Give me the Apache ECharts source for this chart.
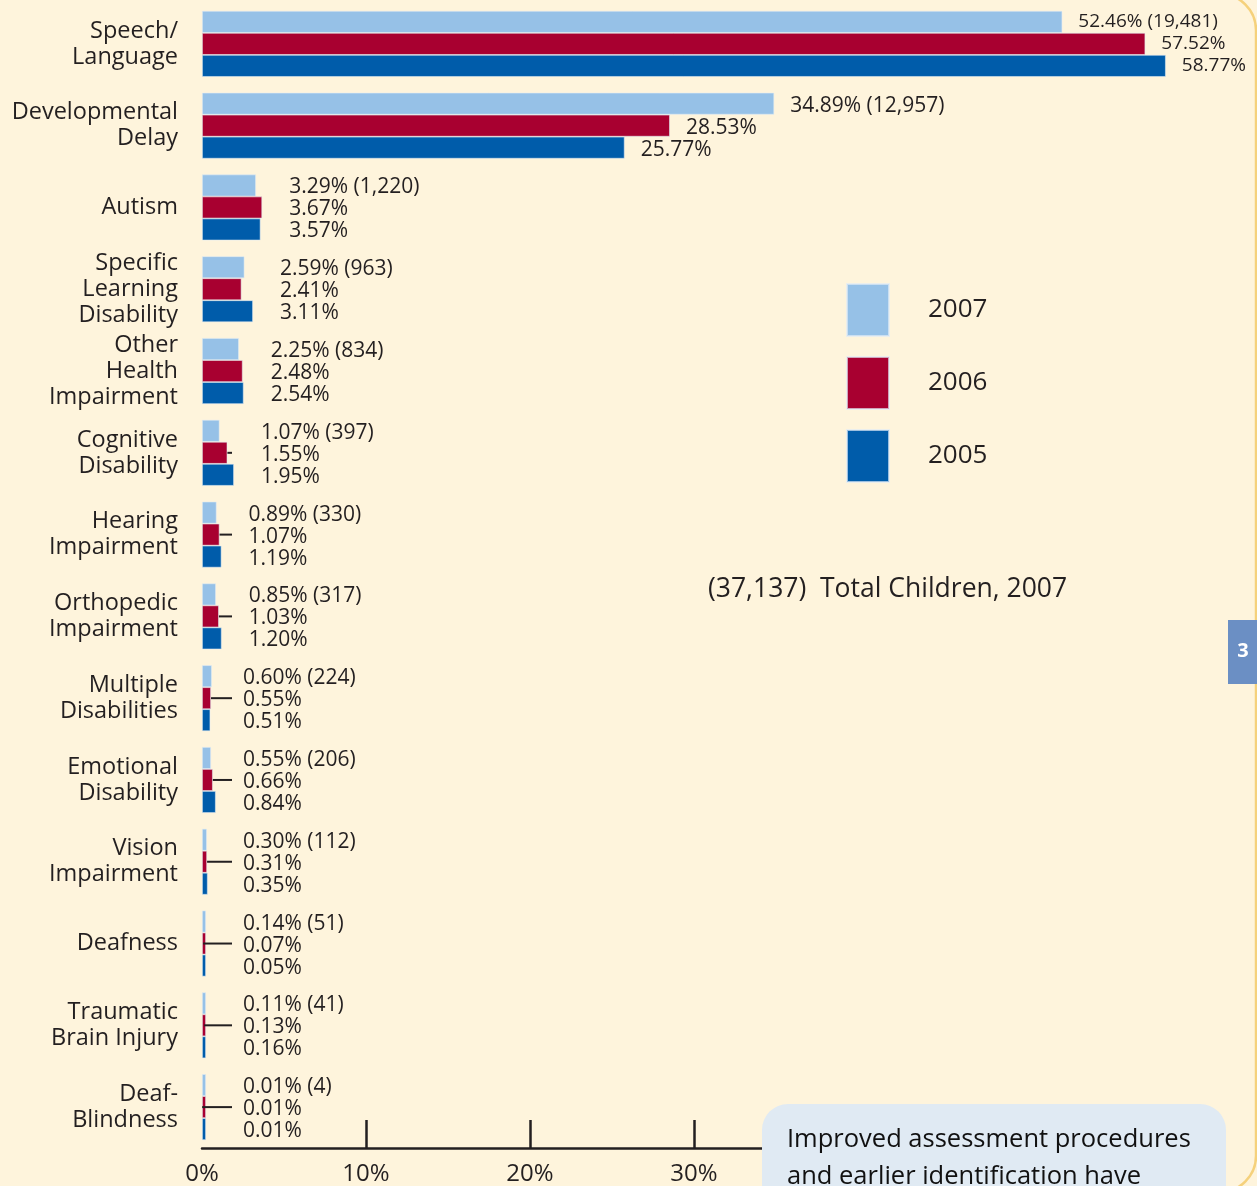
<!DOCTYPE html>
<html>
<head>
<meta charset="utf-8">
<script src="https://cdn.jsdelivr.net/npm/echarts@6/dist/echarts.min.js"></script>
<style>
  html, body { margin: 0; padding: 0; background: #fef4dc; }
  #chart { width: 1257px; height: 1186px; }
</style>
</head>
<body>
<div id="chart"></div>
<script>
// categories, top to bottom
const categories = [
  'Speech/\nLanguage', 'Developmental\nDelay', 'Autism',
  'Specific\nLearning\nDisability', 'Other\nHealth\nImpairment',
  'Cognitive\nDisability', 'Hearing\nImpairment', 'Orthopedic\nImpairment',
  'Multiple\nDisabilities', 'Emotional\nDisability', 'Vision\nImpairment',
  'Deafness', 'Traumatic\nBrain Injury', 'Deaf-\nBlindness'
]
const years = ['2007', '2006', '2005']
const data2007 = [52.46, 34.89, 3.29, 2.59, 2.25, 1.07, 0.89, 0.85, 0.60, 0.55, 0.30, 0.14, 0.11, 0.01]
const data2006 = [57.52, 28.53, 3.67, 2.41, 2.48, 1.55, 1.07, 1.03, 0.55, 0.66, 0.31, 0.07, 0.13, 0.01]
const data2005 = [58.77, 25.77, 3.57, 3.11, 2.54, 1.95, 1.19, 1.20, 0.51, 0.84, 0.35, 0.05, 0.16, 0.01]
const counts2007 = ['19,481', '12,957', '1,220', '963', '834', '397', '330', '317', '224', '206', '112', '51', '41', '4']
const xTicks = [0, 10, 20, 30, 40, 50, 60]

const colors = ['#96c1e7', '#a80030', '#005caa']
const textColor = '#231f20'
const font = 'Open Sans'

// scale: grid left 202, width 984 for 0..60
const gridLeft = 202
const gridRight = 71
const axisMax = 60
const pxPer = (1257 - gridLeft - gridRight) / axisMax
const minBar = 4

const allData = [data2007, data2006, data2005]

// labels of a category sit in one column to the right of its longest bar
function makeItems (vals, s) {
  return vals.map((v, i) => {
    const maxV = Math.max(data2007[i], data2006[i], data2005[i])
    const end = Math.max(v * pxPer, minBar)
    let dist = 16
    let size = 21
    let dy = 2
    if (maxV < 10) {
      const col = Math.max(maxV * pxPer + 27, 41)
      dist = col - end
    }
    if (i === 0) { size = 19; dy = 0 }
    return {
      value: v,
      label: { distance: dist, fontSize: size, offset: [0, dy] }
    }
  })
}

const barSeries = allData.map((vals, s) => ({
  name: years[s],
  type: 'bar',
  barWidth: 22,
  barGap: '0%',
  barMinHeight: minBar,
  itemStyle: { color: colors[s], borderColor: 'rgba(225,235,245,0.7)', borderWidth: 0.8 },
  label: {
    show: true,
    position: 'right',
    color: textColor,
    fontFamily: font,
    formatter: p => {
      const t = p.value.toFixed(2) + '%'
      return s === 0 ? t + ' (' + counts2007[p.dataIndex] + ')' : t
    }
  },
  data: makeItems(vals, s)
}))

// leader lines from the short 2006 bars to the label column
const leaderData = data2006.map((v, i) => [v, i]).filter(d => d[0] < 1.7)
const leaderSeries = {
  type: 'custom',
  silent: true,
  z: 5,
  data: leaderData,
  renderItem: (params, api) => {
    const a = api.coord([api.value(0), api.value(1)])
    const b = api.coord([0, api.value(1)])
    return {
      type: 'line',
      shape: { x1: a[0], y1: a[1], x2: b[0] + 30, y2: a[1] },
      style: { stroke: textColor, lineWidth: 2 }
    }
  }
}

const myChart = echarts.init(document.getElementById('chart'))
const option = {
  backgroundColor: '#fef4dc',
  animation: false,
  textStyle: { fontFamily: font },
  grid: { left: gridLeft, right: gridRight, top: 3, bottom: 36 },
  legend: {
    data: years,
    orient: 'vertical',
    left: 841,
    top: 278,
    icon: 'rect',
    itemWidth: 42,
    itemHeight: 52,
    itemGap: 19,
    textStyle: { fontSize: 26, color: textColor, fontFamily: font, padding: [0, 0, 0, 34] },
    selectedMode: false
  },
  xAxis: {
    type: 'value',
    min: 0,
    max: axisMax,
    interval: 10,
    splitLine: { show: false },
    axisLine: { show: true, lineStyle: { color: textColor, width: 2.5 } },
    axisTick: {
      show: true,
      inside: true,
      length: 28,
      customValues: xTicks.slice(1),
      lineStyle: { color: textColor, width: 2.5 }
    },
    axisLabel: {
      formatter: '{value}%',
      fontSize: 24,
      color: textColor,
      fontFamily: font,
      margin: 14,
      customValues: xTicks
    }
  },
  yAxis: {
    type: 'category',
    inverse: true,
    data: categories,
    axisLine: { show: false },
    axisTick: { show: false },
    axisLabel: {
      fontSize: 23.5,
      lineHeight: 26,
      color: textColor,
      fontFamily: font,
      margin: 24,
      align: 'right'
    }
  },
  series: [...barSeries, leaderSeries],
  graphic: [
    {
      type: 'text',
      left: 708,
      top: 576,
      style: { text: '(37,137)  Total Children, 2007', fontSize: 26.5, fill: textColor, fontFamily: font }
    },
    {
      type: 'rect',
      z: 100,
      shape: { x: -60, y: -6, width: 1316, height: 1198, r: 36 },
      style: { fill: 'none', stroke: '#f5d17c', lineWidth: 2.5 }
    },
    {
      type: 'rect',
      z: 101,
      shape: { x: 762, y: 1104, width: 464, height: 120, r: 26 },
      style: { fill: '#e0eaf3' }
    },
    {
      type: 'text',
      z: 102,
      left: 787,
      top: 1121,
      style: {
        text: 'Improved assessment procedures\nand earlier identification have',
        fontSize: 25.5,
        lineHeight: 37,
        fill: '#111',
        fontFamily: font
      }
    },
    {
      type: 'rect',
      z: 101,
      shape: { x: 1228, y: 620, width: 30, height: 64 },
      style: { fill: '#6b8fc4' }
    },
    {
      type: 'text',
      z: 102,
      x: 1243,
      y: 651,
      style: { text: '3', fontSize: 20, fontWeight: 'bold', fill: '#fff', fontFamily: font, align: 'center', verticalAlign: 'middle' }
    }
  ]
}
myChart.setOption(option)
</script>
</body>
</html>
